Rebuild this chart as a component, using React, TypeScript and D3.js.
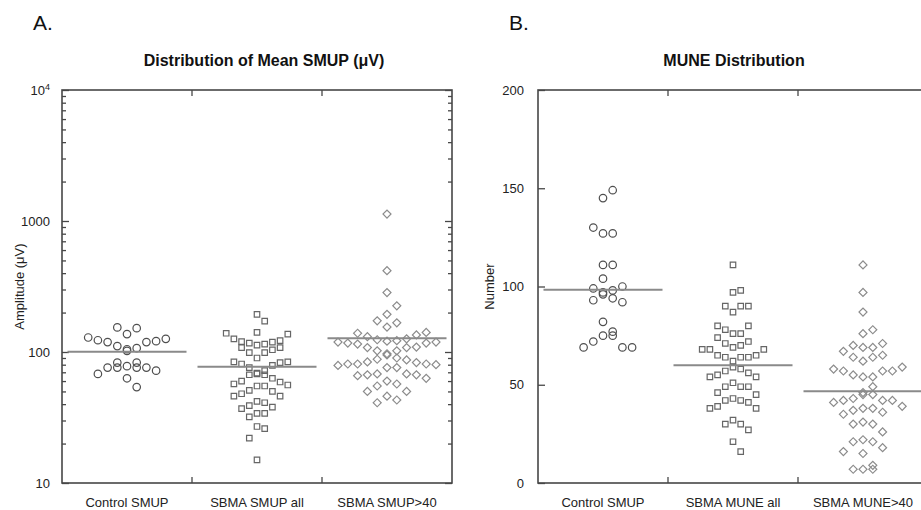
import React, { useRef, useEffect } from "react";
import * as d3 from "d3";

const smupCategories = ["Control SMUP", "SBMA SMUP all", "SBMA SMUP>40"];
const muneCategories = ["Control SMUP", "SBMA MUNE all", "SBMA MUNE>40"];

// mean SMUP amplitude, µV
const smupControl = [154, 152, 137, 129, 123, 119, 126, 121, 119, 111, 105, 107, 102, 78, 76, 76, 83, 83, 76, 76, 72, 68, 63, 54];
const smupAll = [194, 172, 141, 139, 137, 126, 122, 120, 119, 117, 115, 113, 108, 108, 104, 99, 99, 90, 84, 84, 83, 81, 79, 76, 72, 69, 68, 67, 67, 63, 60, 59, 57, 56, 55, 55, 51, 50, 48, 46, 46, 42, 41, 39, 38, 37, 34, 34, 32, 27, 26, 22, 15];
const smupOver40 = [1130, 418, 284, 225, 194, 173, 167, 155, 141, 135, 139, 126, 121, 119, 117, 115, 117, 119, 122, 124, 131, 109, 108, 102, 97, 102, 108, 88, 84, 81, 80, 79, 90, 95, 81, 81, 83, 87, 76, 76, 67, 66, 68, 63, 57, 55, 60, 67, 68, 50, 43, 41, 46, 50];

// MUNE counts
const muneControl = [149, 145, 130, 127, 127, 111, 111, 104, 100, 99, 98, 97, 96, 94, 93, 92, 82, 77, 75, 75, 72, 69, 69, 69];
const muneAll = [111, 97, 98, 90, 90, 90, 87, 80, 80, 78, 76, 76, 74, 71, 72, 69, 68, 68, 68, 70, 65, 64, 62, 64, 64, 65, 59, 57, 55, 54, 56, 58, 54, 51, 49, 49, 49, 46, 45, 43, 42, 39, 38, 38, 41, 42, 32, 30, 30, 27, 21, 16];
const muneOver40 = [111, 97, 87, 78, 76, 70, 69, 69, 71, 67, 64, 62, 64, 65, 58, 57, 55, 54, 54, 57, 57, 59, 49, 45, 43, 45, 46, 42, 42, 39, 38, 37, 38, 41, 42, 35, 36, 30, 30, 31, 26, 21, 22, 18, 15, 16, 21, 9, 7, 7, 7];

const smupTicks = [10, 100, 1000, 10000];
const muneTicks = [0, 50, 100, 150, 200];

const FONT = "'Liberation Sans', Arial, Helvetica, sans-serif";
const AXIS = "#474747";

const markers = [
  { type: d3.symbolCircle, size: 44, stroke: "#4f4f4f", rotate: 0, dx: 9.7 },
  { type: d3.symbolSquare, size: 30, stroke: "#666666", rotate: 0, dx: 7.7 },
  { type: d3.symbolSquare, size: 32, stroke: "#8c8c8c", rotate: 45, dx: 9.8 },
];

type Pt = { v: number; x: number; y: number };

// simple dot-plot layout: rows of nearby values, spread out from the centre
const swarm = (values: number[], y: (v: number) => number, cx: number, dx: number, rowH: number) => {
  const pts: Pt[] = values.map((v) => ({ v, x: cx, y: y(v) }));
  const mid = d3.median(pts, (p) => p.y) as number;
  const above = pts.filter((p) => p.y < mid).sort((a, b) => b.y - a.y);
  const below = pts.filter((p) => p.y >= mid).sort((a, b) => a.y - b.y);
  [above, below].forEach((group) => {
    let row: Pt[] = [];
    let start = 0;
    const flush = () => {
      row.forEach((p, i) => {
        const k = Math.ceil(i / 2) * (i % 2 ? 1 : -1);
        p.x = cx + k * dx;
      });
    };
    group.forEach((p) => {
      if (row.length && Math.abs(p.y - start) < rowH) row.push(p);
      else {
        flush();
        row = [p];
        start = p.y;
      }
    });
    flush();
  });
  return pts;
};

const drawPanel = (g: any, cfg: any) => {
  const { left, width, top, bottom, y, categories, series, majors, minors, fmt, padding } = cfg;
  const x = d3.scaleBand().domain(categories).range([left, left + width]);

  g.append("rect")
    .attr("x", left)
    .attr("y", top)
    .attr("width", width)
    .attr("height", bottom - top)
    .attr("fill", "none")
    .attr("stroke", AXIS)
    .attr("stroke-width", 1.6);

  // left axis
  const yAxis = g.append("g").attr("transform", `translate(${left},0)`);
  yAxis.call(d3.axisLeft(y).tickValues(majors).tickSize(-7).tickPadding(padding).tickFormat(fmt));
  if (minors.length) {
    g.append("g")
      .attr("transform", `translate(${left},0)`)
      .call(d3.axisLeft(y).tickValues(minors).tickSize(-4).tickFormat(() => ""));
    g.append("g")
      .attr("transform", `translate(${left + width},0)`)
      .call(d3.axisRight(y).tickValues(majors).tickSize(-7).tickFormat(() => ""));
    g.append("g")
      .attr("transform", `translate(${left + width},0)`)
      .call(d3.axisRight(y).tickValues(minors).tickSize(-4).tickFormat(() => ""));
  }
  g.selectAll(".domain").remove();
  g.selectAll(".tick line").attr("stroke", AXIS).attr("stroke-width", 1.3);
  yAxis.selectAll("text").attr("fill", "#222").style("font-family", FONT).style("font-size", "13px");
  yAxis
    .selectAll(".tick")
    .filter((d: number) => d === 10000)
    .select("text")
    .append("tspan")
    .attr("dy", "-0.5em")
    .style("font-size", "9px")
    .text("4");

  // category boundaries on top and bottom edges
  const bounds = categories.slice(1).map((c: string) => x(c));
  g.selectAll(".bt")
    .data(bounds)
    .join("line")
    .attr("x1", (d: number) => d)
    .attr("x2", (d: number) => d)
    .attr("y1", bottom)
    .attr("y2", bottom - 6)
    .attr("stroke", AXIS)
    .attr("stroke-width", 1.3);
  g.selectAll(".tt")
    .data(bounds)
    .join("line")
    .attr("x1", (d: number) => d)
    .attr("x2", (d: number) => d)
    .attr("y1", top)
    .attr("y2", top + 6)
    .attr("stroke", AXIS)
    .attr("stroke-width", 1.3);

  g.selectAll(".cat")
    .data(categories)
    .join("text")
    .attr("x", (d: string) => (x(d) as number) + x.bandwidth() / 2)
    .attr("y", 507)
    .attr("text-anchor", "middle")
    .attr("fill", "#222")
    .style("font-family", FONT)
    .style("font-size", "13px")
    .text((d: string) => d);

  series.forEach((values: number[], i: number) => {
    const m = markers[i];
    const cx = (x(categories[i]) as number) + x.bandwidth() / 2;
    const pts = swarm(values, y, cx, m.dx, 12);
    const sym = d3.symbol().type(m.type).size(m.size);
    g.append("g")
      .selectAll("path")
      .data(pts)
      .join("path")
      .attr("d", sym)
      .attr("transform", (p: Pt) => `translate(${p.x},${p.y}) rotate(${m.rotate})`)
      .attr("fill", "none")
      .attr("stroke", m.stroke)
      .attr("stroke-width", 1.2);

    const mean = d3.mean(values) as number;
    g.append("line")
      .attr("x1", cx - 59.5)
      .attr("x2", cx + 59.5)
      .attr("y1", y(mean))
      .attr("y2", y(mean))
      .attr("stroke", "#8a8a8a")
      .attr("stroke-width", 2);
  });

  g.append("text")
    .attr("x", cfg.titleX)
    .attr("y", 66)
    .attr("text-anchor", "middle")
    .attr("fill", "#111")
    .style("font-family", FONT)
    .style("font-size", "16px")
    .style("font-weight", "bold")
    .text(cfg.title);

  g.append("text")
    .attr("transform", `translate(${cfg.labelX},${(top + bottom) / 2}) rotate(-90)`)
    .attr("text-anchor", "middle")
    .attr("dy", "0.35em")
    .attr("fill", "#222")
    .style("font-family", FONT)
    .style("font-size", "13px")
    .text(cfg.label);

  g.append("text")
    .attr("x", left - 29)
    .attr("y", 30)
    .attr("fill", "#111")
    .style("font-family", FONT)
    .style("font-size", "21px")
    .text(cfg.letter);
};

const App = () => {
  const svgRef = useRef<SVGSVGElement>(null);

  useEffect(() => {
    const svg = d3.select(svgRef.current);
    svg.selectAll("*").remove();

    const top = 90;
    const bottom = 483;

    const yA = d3.scaleLog().domain([10, 10000]).range([bottom, top]);
    const minorsA: number[] = [];
    [10, 100, 1000].forEach((dec) => {
      for (let k = 2; k <= 9; k++) minorsA.push(dec * k);
    });
    drawPanel(svg.append("g"), {
      left: 62,
      width: 390,
      top,
      bottom,
      y: yA,
      categories: smupCategories,
      series: [smupControl, smupAll, smupOver40],
      majors: smupTicks,
      minors: minorsA,
      fmt: (d: number) => (d === 10000 ? "10" : String(d)),
      padding: 12,
      title: "Distribution of Mean SMUP (\u03bcV)",
      titleX: 264,
      label: "Amplitude (\u03bcV)",
      labelX: 19,
      letter: "A.",
    });

    const yB = d3.scaleLinear().domain([0, 200]).range([bottom, top]);
    drawPanel(svg.append("g"), {
      left: 538,
      width: 390,
      top,
      bottom,
      y: yB,
      categories: muneCategories,
      series: [muneControl, muneAll, muneOver40],
      majors: muneTicks,
      minors: [],
      fmt: (d: number) => String(d),
      padding: 14,
      title: "MUNE Distribution",
      titleX: 734,
      label: "Number",
      labelX: 489,
      letter: "B.",
    });
  }, []);

  return (
    <div style={{ position: "absolute", left: 0, top: 0 }}>
      <svg ref={svgRef} width={921} height={510} style={{ display: "block", background: "#fff" }} />
    </div>
  );
};

export default App;
